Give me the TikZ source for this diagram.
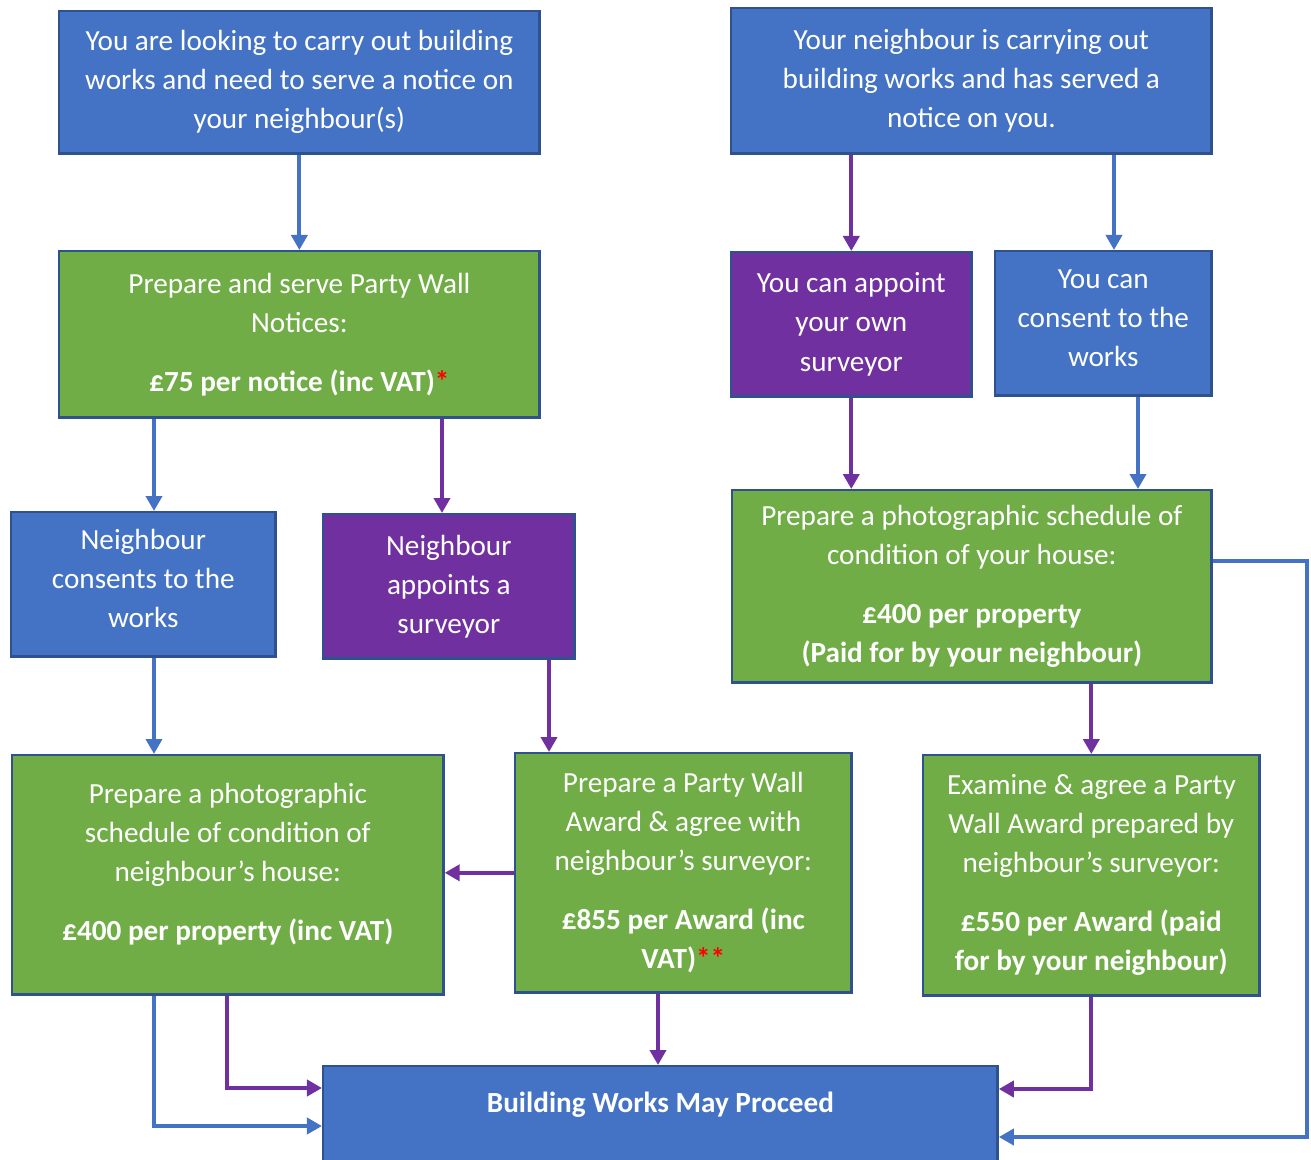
\documentclass[tikz,border=0pt]{standalone}
\usepackage{fontspec}
\setmainfont{Carlito}
\usetikzlibrary{arrows.meta}
\definecolor{pwblue}{HTML}{4472C4}
\definecolor{pwgreen}{HTML}{70AD47}
\definecolor{pwpurple}{HTML}{7030A0}
\definecolor{pwedge}{HTML}{2F528F}
\definecolor{pwred}{HTML}{FF0000}
\tikzset{
	box/.style={draw=pwedge, line width=0.7pt, text=white, align=center, inner sep=0pt,
		anchor=north west, font=\fontsize{8.3}{11.1}\selectfont},
	bluebox/.style={box, fill=pwblue},
	greenbox/.style={box, fill=pwgreen},
	purplebox/.style={box, fill=pwpurple},
	bluearrow/.style={draw=pwblue, line width=1.1pt, -{Triangle[length=0.15cm,width=0.16cm]}},
	purplearrow/.style={draw=pwpurple, line width=1.1pt, -{Triangle[length=0.15cm,width=0.16cm]}},
}
\newcommand{\redstar}[1]{\textcolor{pwred}{\textbf{#1}}}
\begin{document}
\begin{tikzpicture}[x=0.01cm, y=-0.01cm]
			\useasboundingbox (0,0) rectangle (1311,1160);
			% 上段
			\node[bluebox, minimum width=4.8cm, minimum height=1.42cm] (n1) at (58,10)
				{You are looking to carry out building\\works and need to serve a notice on\\your neighbour(s)};
			\node[bluebox, minimum width=4.8cm, minimum height=1.45cm] (n2) at (730,7)
				{Your neighbour is carrying out\\building works and has served a\\notice on you.};
			% 二段目
			\node[greenbox, minimum width=4.8cm, minimum height=1.66cm] (n3) at (58,250)
				{Prepare and serve Party Wall\\Notices:\\[0.2cm]\textbf{£75 per notice (inc VAT)}\redstar{*}};
			\node[purplebox, minimum width=2.4cm, minimum height=1.44cm] (n4) at (730,251)
				{You can appoint\\your own\\surveyor};
			\node[bluebox, minimum width=2.16cm, minimum height=1.44cm, text depth=0.1cm] (n5) at (994,250)
				{You can\\consent to the\\works};
			% 三段目
			\node[bluebox, minimum width=2.64cm, minimum height=1.44cm, text depth=0.12cm] (n6) at (10,511)
				{Neighbour\\consents to the\\works};
			\node[purplebox, minimum width=2.51cm, minimum height=1.44cm] (n7) at (322,513)
				{Neighbour\\appoints a\\surveyor};
			\node[greenbox, minimum width=4.79cm, minimum height=1.92cm] (n8) at (731,489)
				{Prepare a photographic schedule of\\condition of your house:\\[0.2cm]\textbf{£400 per property}\\\textbf{(Paid for by your neighbour)}};
			% 四段目
			\node[greenbox, minimum width=4.31cm, minimum height=2.39cm, text depth=0.26cm] (n9) at (11,754)
				{Prepare a photographic\\schedule of condition of\\neighbour’s house:\\[0.2cm]\textbf{£400 per property (inc VAT)}};
			\node[greenbox, minimum width=3.36cm, minimum height=2.39cm] (n10) at (514,752)
				{Prepare a Party Wall\\Award \& agree with\\neighbour’s surveyor:\\[0.2cm]\textbf{£855 per Award (inc}\\\textbf{VAT)}\redstar{**}};
			\node[greenbox, minimum width=3.36cm, minimum height=2.4cm] (n11) at (922,754)
				{Examine \& agree a Party\\Wall Award prepared by\\neighbour’s surveyor:\\[0.2cm]\textbf{£550 per Award (paid}\\\textbf{for by your neighbour)}};
			% 最下段
			\node[bluebox, minimum width=6.74cm, text height=0.46cm, text depth=0.7cm] (n12) at (322,1065)
				{\textbf{Building Works May Proceed}};
			% 矢印の位置
			\coordinate (p3) at (1114,0);
			\coordinate (p4) at (154,0);
			\coordinate (p5) at (442,0);
			\coordinate (p7) at (1138,0);
			\coordinate (p9) at (549,0);
			\coordinate (p13) at (658,0);
			\coordinate (R1) at (1307,561);
			\coordinate (R2) at (1307,1137);
			\coordinate (L1) at (227,1088);
			\coordinate (L2) at (154,1126);
			\coordinate (M1) at (1091,1089);
			% 矢印
			\draw[bluearrow] (n1.south) -- (n3.north);
			\draw[purplearrow] (n4.north |- n2.south) -- (n4.north);
			\draw[bluearrow] (p3 |- n2.south) -- (p3 |- n5.north);
			\draw[bluearrow] (p4 |- n3.south) -- (p4 |- n6.north);
			\draw[purplearrow] (p5 |- n3.south) -- (p5 |- n7.north);
			\draw[purplearrow] (n4.south) -- (n4.south |- n8.north);
			\draw[bluearrow] (p7 |- n5.south) -- (p7 |- n8.north);
			\draw[bluearrow] (p4 |- n6.south) -- (p4 |- n9.north);
			\draw[purplearrow] (p9 |- n7.south) -- (p9 |- n10.north);
			\draw[purplearrow] (n11.north |- n8.south) -- (n11.north);
			\draw[purplearrow] (n10.west) -- (n10.west -| n9.east);
			\draw[bluearrow] (R1 -| n8.east) -- (R1) -- (R2) -- (R2 -| n12.east);
			\draw[purplearrow] (p13 |- n10.south) -- (p13 |- n12.north);
			\draw[purplearrow] (M1 |- n11.south) -- (M1) -- (M1 -| n12.east);
			\draw[purplearrow] (L1 |- n9.south) -- (L1) -- (L1 -| n12.west);
			\draw[bluearrow] (L2 |- n9.south) -- (L2) -- (L2 -| n12.west);
\end{tikzpicture}
\end{document}
